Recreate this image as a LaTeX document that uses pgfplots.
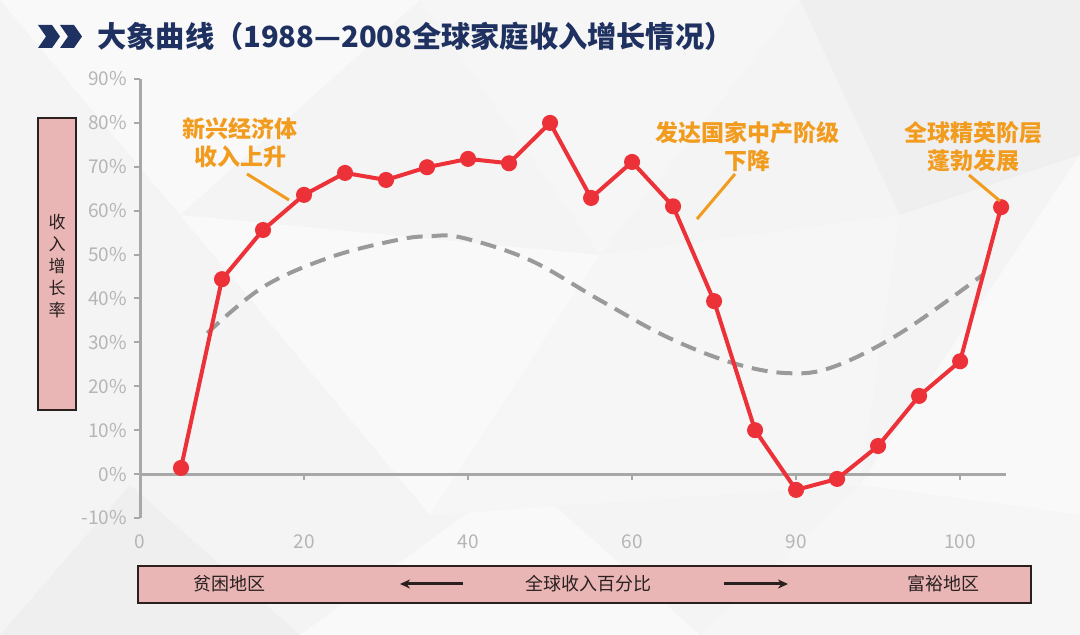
\documentclass[border=0pt]{standalone}
\usepackage{fontspec}
\setmainfont{Noto Sans CJK SC}
\usepackage{pgfplots}
\pgfplotsset{compat=1.18}
\usetikzlibrary{arrows.meta}
\definecolor{navy}{HTML}{1F3160}
\definecolor{redl}{HTML}{EC3238}
\definecolor{orng}{HTML}{F29C1F}
\definecolor{pinkb}{HTML}{E9B5B5}
\definecolor{axgray}{HTML}{A8A8A8}
\definecolor{tickgray}{HTML}{B5B5B5}
\definecolor{dashg}{HTML}{9A9A9A}
\definecolor{darkt}{HTML}{2A2020}
\definecolor{bg}{HTML}{F4F4F4}
\definecolor{bgA}{HTML}{F9F9F9}
\definecolor{bgB}{HTML}{EFEFEF}
\definecolor{bgC}{HTML}{F6F6F6}
\begin{document}
\begin{tikzpicture}[x=0.5pt,y=0.5pt]
\useasboundingbox (0,0) rectangle (1080,635);
\fill[bg] (0,0) rectangle (1080,635);
\fill[bgA] (0,635) -- (420,635) -- (180,420) -- cycle;
\fill[bgC] (420,635) -- (800,635) -- (600,380) -- cycle;
\fill[bgB] (800,635) -- (1080,635) -- (1080,480) -- (900,420) -- cycle;
\fill[bgA] (180,420) -- (600,380) -- (430,120) -- cycle;
\fill[bgC] (600,380) -- (900,420) -- (860,150) -- cycle;
\fill[bgA] (860,150) -- (1080,480) -- (1080,120) -- cycle;
\fill[bgB] (0,0) -- (300,0) -- (130,150) -- cycle;
\fill[bgA] (300,0) -- (700,0) -- (520,160) -- cycle;
\fill[bgC] (700,0) -- (1080,0) -- (1080,120) -- (860,150) -- cycle;
\fill[bgC] (430,120) -- (600,380) -- (860,150) -- cycle;
% title
\fill[navy] (38,610) -- (52,610) -- (60,598.5) -- (52,587) -- (38,587) -- (46,598.5) -- cycle;
\fill[navy] (60,610) -- (74,610) -- (82,598.5) -- (74,587) -- (60,587) -- (68,598.5) -- cycle;
\node[anchor=west, inner sep=0, font=\bfseries\fontsize{14.6}{17}\selectfont, text=navy] at (97,599) {大象曲线（1988—2008全球家庭收入增长情况）};
\begin{axis}[at={(70pt,58.5pt)}, anchor=south west, scale only axis,
  width=433pt, height=219.5pt,
  xmin=0, xmax=105.6, ymin=-10, ymax=90,
  axis x line=bottom, axis y line=left,
  x axis line style={draw=none},
  y axis line style={-, draw=axgray, line width=1.5pt},
  xtick={0,20,40,60,80,100}, xticklabels={0,20,40,60,90,100},
  ytick={-10,0,10,20,30,40,50,60,70,80,90},
  yticklabels={-10\%,0\%,10\%,20\%,30\%,40\%,50\%,60\%,70\%,80\%,90\%},
  x tick style={draw=none},
  y tick style={draw=axgray, line width=1pt},
  tick align=outside, major tick length=3pt,
  tick label style={font=\fontsize{9.5}{11}\selectfont, text=tickgray},
  xticklabel style={yshift=-2pt},
  clip=false]
\draw[axgray, line width=1.5pt] (axis cs:0,0) -- (axis cs:105.6,0);
\draw[axgray, line width=1pt] (axis cs:20,0) -- (axis cs:20,-1.4);
\draw[axgray, line width=1pt] (axis cs:40,0) -- (axis cs:40,-1.4);
\draw[axgray, line width=1pt] (axis cs:60,0) -- (axis cs:60,-1.4);
\draw[axgray, line width=1pt] (axis cs:80,0) -- (axis cs:80,-1.4);
\draw[axgray, line width=1pt] (axis cs:100,0) -- (axis cs:100,-1.4);
\addplot[color=dashg, line width=2pt, dash pattern=on 8pt off 4.5pt, smooth, tension=0.6] coordinates {
(8.2,32.1) (15.0,42.6) (23.2,49.4) (31.3,53.3) (35.4,54.2) (39.4,53.8) (47.6,48.7) (56.1,39.6) (64.3,31.2) (72.3,25.3) (78.9,23.0) (84.5,24.4) (92.7,32.1) (102.7,45.3)};
\addplot[color=redl, line width=2pt, mark=*, mark size=3pt, mark options={solid, fill=redl, draw=redl}] coordinates {
(5,1.4) (10,44.4) (15,55.6) (20,63.6) (25,68.6) (30,67.0) (35,69.9) (40,71.8) (45,70.8) (50,80.0) (55,62.9) (60,71.1) (65,61.0) (70,39.4) (75,10.0) (80,-3.6) (85,-1.1) (90,6.4) (95,17.8) (100,25.7) (105,60.8)};
\end{axis}
% annotations
\node[align=center, font=\bfseries\fontsize{11.5}{14}\selectfont, text=orng] at (240,492) {新兴经济体\\收入上升};
\draw[orng, line width=1.5pt] (247,461) -- (289,435);
\node[align=center, font=\bfseries\fontsize{11.5}{14}\selectfont, text=orng] at (747,488) {发达国家中产阶级\\下降};
\draw[orng, line width=1.5pt] (735,461) -- (697,416);
\node[align=center, font=\bfseries\fontsize{11.5}{14}\selectfont, text=orng] at (973,488) {全球精英阶层\\蓬勃发展};
\draw[orng, line width=1.5pt] (969,460) -- (1000,434);
% y label box
\draw[fill=pinkb, draw=darkt, line width=0.6pt] (38,517) rectangle (76,225);
\node[align=center, font=\fontsize{8.5}{10.9}\selectfont, text=darkt] at (57,369) {收\\入\\增\\长\\率};
% bottom box
\draw[fill=pinkb, draw=darkt, line width=0.8pt] (138,69) rectangle (1031,32);
\node[font=\fontsize{9}{11}\selectfont, text=darkt] at (229,51) {贫困地区};
\node[font=\fontsize{9}{11}\selectfont, text=darkt] at (588,51) {全球收入百分比};
\node[font=\fontsize{9}{11}\selectfont, text=darkt] at (943,51) {富裕地区};
\draw[darkt, line width=1.5pt, -{Stealth[length=5pt,width=4.5pt]}] (463,51) -- (400,51);
\draw[darkt, line width=1.5pt, -{Stealth[length=5pt,width=4.5pt]}] (724,51) -- (788,51);
\end{tikzpicture}
\end{document}
